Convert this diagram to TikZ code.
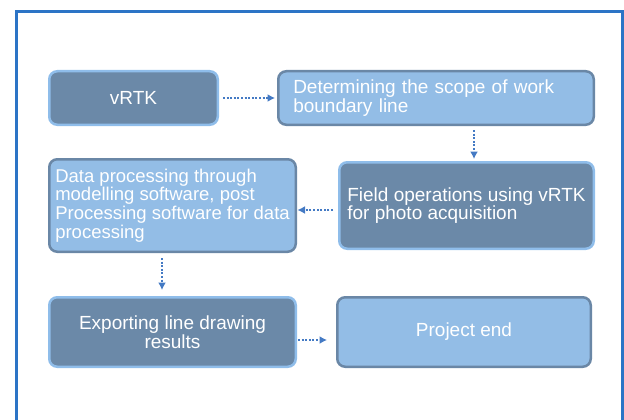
\documentclass[tikz,border=0pt]{standalone}
\usepackage{fontspec}
\setmainfont{Liberation Sans}
\usepackage{tikz}
\usepackage{xcolor}
\usetikzlibrary{positioning}
\usetikzlibrary{arrows.meta}
\definecolor{boxdark}{RGB}{107,137,168}
\definecolor{boxlight}{RGB}{147,189,230}
\definecolor{edgelight}{RGB}{143,189,234}
\definecolor{edgedark}{RGB}{106,135,166}
\definecolor{arrowblue}{RGB}{68,122,196}
\definecolor{frameblue}{RGB}{44,116,198}
\tikzset{dark node/.style={rectangle,rounded corners=8pt,fill=boxdark,draw=edgelight,line width=2.5pt,text=white,align=center,font=\fontsize{19}{18.8}\selectfont},
light node/.style={rectangle,rounded corners=8pt,fill=boxlight,draw=edgedark,line width=2.5pt,text=white,align=center,font=\fontsize{19}{18.8}\selectfont},
flow/.style={-{Latex[length=7.5pt,width=8pt]},draw=arrowblue,line width=1.4pt,dash pattern=on 2pt off 1.6pt},}

\begin{document}
\begin{tikzpicture}[x=1pt,y=1pt]
 \useasboundingbox (0,0) rectangle (624,-420);
 \draw[frameblue,line width=2.5pt] (16.3,-425) -- (16.3,-11.3) -- (622.7,-11.3) -- (622.7,-425);

 \node[dark node,minimum width=168.5pt,minimum height=53.5pt] (1) at (133.5,-98) {vRTK};
    \node[light node,align=left,text width=285.5pt,inner xsep=15pt,minimum height=53.5pt] (2) [right = 58pt of 1] {Determining the scope of work\\boundary line};
    \node[dark node,align=left,minimum width=254.5pt,minimum height=86.5pt] (3) [below left = 35pt and 0pt of 2.south east] {Field operations using vRTK\\for photo acquisition};
    \node[light node,align=left,minimum width=246.5pt,minimum height=92.5pt,font=\fontsize{18.5}{18.8}\selectfont] (4) [left = 41pt of 3] {Data processing through\\modelling software, post\\Processing software for data\\processing};
    \node[dark node,minimum width=246.5pt,minimum height=69.5pt] (5) [below = 43pt of 4] {Exporting line drawing\\results};
    \node[light node,minimum width=253.5pt,minimum height=69.5pt] (6) [right = 39pt of 5] {Project end};
     \draw[flow,shorten <=4pt,shorten >=2pt] (1.east) -- (2.west);
     \draw[flow,shorten <=4pt,shorten >=2pt] ([xshift=7.5pt]3.north |- 2.south) -- ([xshift=7.5pt]3.north);
     \draw[flow,shorten <=5pt,shorten >=0.5pt] ([yshift=-4.5pt]3.west) -- ([yshift=-4.5pt]3.west -| 4.east);
     \draw[flow,shorten <=5pt,shorten >=6pt] ([xshift=-10.5pt]4.south) -- ([xshift=-10.5pt]5.north);
     \draw[flow,shorten <=1pt,shorten >=9pt] ([yshift=-8pt]5.east) -- ([yshift=-8pt]6.west);
\end{tikzpicture}
\end{document}
